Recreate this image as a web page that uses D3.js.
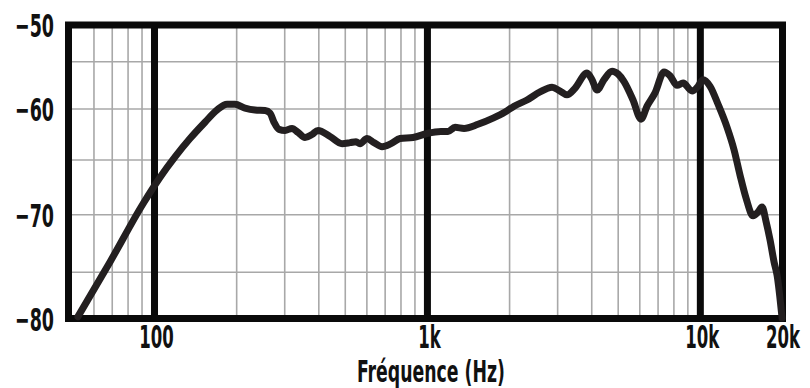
<!DOCTYPE html>
<html>
<head>
<meta charset="utf-8">
<script src="https://cdn.jsdelivr.net/npm/d3@7"></script>
<style>
  html, body { margin: 0; padding: 0; background: #fff; }
  #chart text { font-family: 'Liberation Sans Narrow', 'DejaVu Sans Condensed', 'Roboto', sans-serif; font-weight: bold; fill: #111; }
</style>
</head>
<body>
<div id="chart"></div>
<script>
// frequency response curve
const freq = [52.4, 68.7, 90.8, 104.7, 118.9, 134.9, 153.1, 169.4, 184.4, 197.2,
  214.6, 233.5, 254.1, 265.0, 274.1, 285.9, 300.8, 319.1, 335.7, 356.0,
  377.7, 397.3, 439.7, 486.6, 520.6, 547.5, 566.2, 600.6, 637.3, 681.7,
  735.6, 793.6, 885.7, 996.6, 1121, 1190, 1262, 1362, 1532, 1740,
  1925, 2077, 2317, 2586, 2862, 3062, 3247, 3474, 3844, 4010,
  4183, 4437, 4747, 4994, 5253, 5667, 6063, 6378, 6823, 7362,
  7745, 8215, 8643, 9326, 9808, 10230, 10855, 11613, 12530, 13290,
  13982, 14711, 15603, 16275, 16834, 17412, 18008, 18627, 19104, 19928];
const level = [-79.8, -74.1, -69.0, -66.6, -64.7, -62.9, -61.3, -60.1, -59.5, -59.5,
  -59.9, -60.1, -60.15, -60.4, -61.3, -62.0, -62.1, -61.9, -62.3, -62.8,
  -62.5, -62.1, -62.7, -63.4, -63.3, -63.2, -63.4, -62.9, -63.3, -63.7,
  -63.4, -62.9, -62.8, -62.4, -62.2, -62.2, -61.8, -61.9, -61.5, -60.9,
  -60.3, -59.7, -59.05, -58.2, -57.7, -58.1, -58.5, -57.8, -56.2, -56.9,
  -58.0, -56.9, -56.0, -56.3, -57.1, -59.05, -61.0, -59.7, -58.3, -56.1,
  -56.5, -57.5, -57.25, -58.1, -57.6, -56.9, -57.6, -59.5, -61.8, -64.0,
  -66.4, -68.5, -70.1, -69.75, -69.3, -70.6, -72.2, -74.1, -75.3, -79.95];

const xMajor = [100, 1000, 10000, 20000];
const xMajorLabels = ["100", "1k", "10k", "20k"];
const xMinor = [60, 70, 80, 90, 200, 300, 400, 500, 600, 700, 800, 900,
  2000, 3000, 4000, 5000, 6000, 7000, 8000, 9000];
const yMajor = [-50, -60, -70, -80];
const yMajorLabels = ["−50", "−60", "−70", "−80"];
const yGrid = [-55, -60, -65, -70, -75];
const xTitle = "Fréquence (Hz)";

const width = 810, height = 388;

const svg = d3.select("#chart").append("svg")
  .attr("width", width)
  .attr("height", height);

const x = d3.scaleLog()
  .domain([48.4, 20000])
  .range([68.5, 782.5]);

// the reference's dB axis is not evenly spaced, so calibrate it per 5 dB
const y = d3.scaleLinear()
  .domain([-80, -75, -70, -65, -60, -55, -50])
  .range([318.5, 272.3, 214.7, 160, 109, 61.7, 25]);

const x0 = x.range()[0], x1 = x.range()[1];
const yTop = y(-50), yBot = y(-80);

// thin grey grid
const grid = svg.append("g")
  .attr("stroke", "#a8a8a8")
  .attr("stroke-width", 1.6);
grid.selectAll(".vx").data(xMinor).enter().append("line")
  .attr("x1", d => x(d)).attr("x2", d => x(d))
  .attr("y1", yTop).attr("y2", yBot);
grid.selectAll(".hy").data(yGrid).enter().append("line")
  .attr("x1", x0).attr("x2", x1)
  .attr("y1", d => y(d)).attr("y2", d => y(d));

// heavy decade lines + frame
const heavy = svg.append("g")
  .attr("stroke", "#0a0a0a")
  .attr("stroke-width", 7);
heavy.selectAll(".dec").data([100, 1000, 10000]).enter().append("line")
  .attr("x1", d => x(d)).attr("x2", d => x(d))
  .attr("y1", yTop).attr("y2", yBot);
heavy.append("rect")
  .attr("x", x0).attr("y", yTop)
  .attr("width", x1 - x0).attr("height", yBot - yTop)
  .attr("fill", "none")
  .attr("stroke-linejoin", "miter");

// response curve
const pts = freq.map((f, i) => [f, level[i]]);
const line = d3.line()
  .x(d => x(d[0]))
  .y(d => y(d[1]))
  .curve(d3.curveMonotoneX);
svg.append("path")
  .datum(pts)
  .attr("d", line)
  .attr("fill", "none")
  .attr("stroke", "#231f20")
  .attr("stroke-width", 7)
  .attr("stroke-linejoin", "round")
  .attr("stroke-linecap", "round");

// condensed look: squeeze each label horizontally to its measured width
const charW = { "−": 16, "k": 11 };
const labelWidth = s => Array.from(s).reduce((a, c) => a + (charW[c] || 11.5), 0);

function squeezed(str, left, baseline, size, w) {
  const t = svg.append("text")
    .attr("font-size", size)
    .text(str);
  const natural = t.node().getComputedTextLength();
  t.attr("transform", "translate(" + left + "," + baseline + ") scale(" + (w / natural) + ",1)");
  return t;
}

xMajor.forEach((d, i) => {
  const s = xMajorLabels[i], w = labelWidth(s);
  const left = i === xMajor.length - 1 ? 800 - w : x(d) + 2 - w / 2;
  squeezed(s, left, 348, 32, w);
});

yMajor.forEach((d, i) => {
  const s = yMajorLabels[i], w = labelWidth(s);
  squeezed(s, 54 - w, y(d) + 12, 32, w);
});

squeezed(xTitle, 431 - 74, 382, 30, 148);
</script>
</body>
</html>
